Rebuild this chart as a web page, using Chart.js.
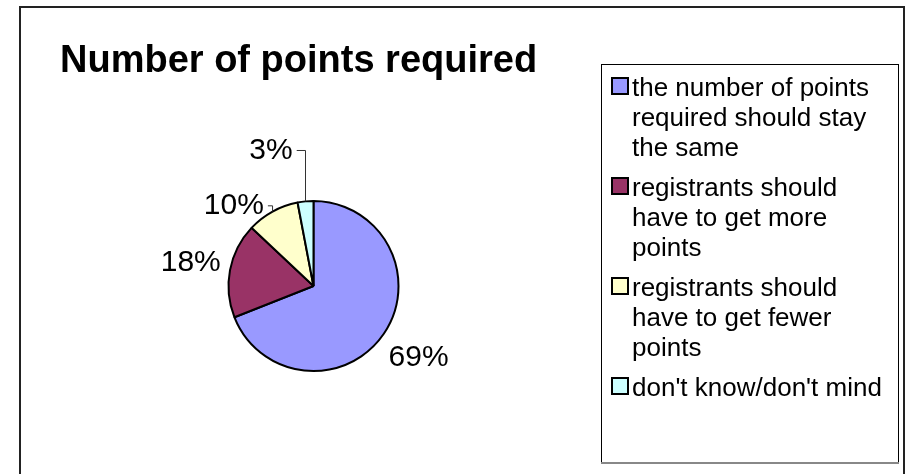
<!DOCTYPE html>
<html>
<head>
<meta charset="utf-8">
<script src="https://cdn.jsdelivr.net/npm/chart.js@4"></script>
<style>
  html, body { margin: 0; padding: 0; background: #ffffff; }
  #wrap { width: 912px; height: 474px; }
</style>
</head>
<body>
<div id="wrap"><canvas id="c" width="912" height="474"></canvas></div>
<script>
// ---- data ----
const chartTitle = 'Number of points required';
const categories = [
  'the number of points required should stay the same',
  'registrants should have to get more points',
  'registrants should have to get fewer points',
  "don't know/don't mind"
];
const values = [69, 18, 10, 3];
const valueLabels = ['69%', '18%', '10%', '3%'];
const sliceColors = ['#9999FF', '#993366', '#FFFFCC', '#CCFFFF'];

// ---- label placement (radial distance beyond the rim, angular shift in degrees) ----
const labelPlacement = [
  { radial: 42, shift: 0, leader: false },
  { radial: 40, shift: 0, leader: false },
  { radial: 28, shift: -16, leader: true },
  { radial: 57, shift: -12, leader: true }
];

const FONT = '"Liberation Sans", Arial, Helvetica, sans-serif';

function wrapText(ctx, text, maxWidth) {
  const words = text.split(' ');
  const lines = [];
  let cur = '';
  for (const w of words) {
    const test = cur ? cur + ' ' + w : w;
    if (ctx.measureText(test).width > maxWidth && cur) {
      lines.push(cur);
      cur = w;
    } else {
      cur = test;
    }
  }
  if (cur) lines.push(cur);
  return lines;
}

const decorPlugin = {
  id: 'decor',
  beforeDraw(chart) {
    const ctx = chart.ctx;
    ctx.save();
    ctx.fillStyle = '#ffffff';
    ctx.fillRect(0, 0, chart.width, chart.height);
    // outer frame
    ctx.strokeStyle = '#222222';
    ctx.lineWidth = 2;
    ctx.strokeRect(20, 7, 884, 490);
    ctx.restore();
  },
  afterDraw(chart) {
    const ctx = chart.ctx;
    const meta = chart.getDatasetMeta(0);
    ctx.save();

    // title
    ctx.fillStyle = '#000000';
    ctx.font = 'bold 38px ' + FONT;
    ctx.textAlign = 'left';
    ctx.textBaseline = 'alphabetic';
    ctx.fillText(chartTitle, 60, 72);

    // data labels + leader lines
    ctx.font = '30px ' + FONT;
    ctx.textAlign = 'center';
    ctx.textBaseline = 'middle';
    meta.data.forEach((arc, i) => {
      const p = arc.getProps(['x', 'y', 'startAngle', 'endAngle', 'outerRadius'], true);
      const pl = labelPlacement[i];
      const midRaw = (p.startAngle + p.endAngle) / 2;
      const mid = midRaw + pl.shift * Math.PI / 180;
      const dist = p.outerRadius + pl.radial;
      const lx = p.x + Math.cos(mid) * dist;
      const ly = p.y + Math.sin(mid) * dist;
      const txt = valueLabels[i];
      ctx.fillStyle = '#000000';
      ctx.fillText(txt, lx, ly);
      if (pl.leader) {
        const w = ctx.measureText(txt).width;
        const ex = p.x + Math.cos(midRaw) * p.outerRadius;
        const ey = p.y + Math.sin(midRaw) * p.outerRadius;
        const sx = lx + w / 2 + 4;
        const sy = ly;
        ctx.strokeStyle = '#333333';
        ctx.lineWidth = 1;
        ctx.beginPath();
        ctx.moveTo(sx, sy);
        ctx.lineTo(ex, sy);
        ctx.lineTo(ex, ey);
        ctx.stroke();
      }
    });

    // legend box
    const bx = 601, by = 64, bw = 297, bh = 398;
    ctx.strokeStyle = '#000000';
    ctx.lineWidth = 1;
    ctx.strokeRect(bx + 0.5, by + 0.5, bw, bh);
    ctx.strokeStyle = '#888888';
    ctx.lineWidth = 2;
    ctx.beginPath();
    ctx.moveTo(bx, by + bh + 1);
    ctx.lineTo(bx + bw + 1, by + bh + 1);
    ctx.stroke();

    ctx.font = '26px ' + FONT;
    ctx.textAlign = 'left';
    ctx.textBaseline = 'alphabetic';
    const lineH = 30, itemGap = 10, textX = 632;
    let baseY = 96;
    const ds = chart.data.datasets[0];
    chart.data.labels.forEach((lab, i) => {
      const lines = wrapText(ctx, lab, 260);
      // swatch
      ctx.fillStyle = ds.backgroundColor[i];
      ctx.fillRect(612, baseY - 18, 16, 16);
      ctx.strokeStyle = '#000000';
      ctx.lineWidth = 2;
      ctx.strokeRect(612, baseY - 18, 16, 16);
      ctx.fillStyle = '#000000';
      lines.forEach((ln, k) => {
        ctx.fillText(ln, textX, baseY + k * lineH);
      });
      baseY += lines.length * lineH + itemGap;
    });

    ctx.restore();
  }
};

new Chart(document.getElementById('c'), {
  type: 'pie',
  data: {
    labels: categories,
    datasets: [{
      data: values,
      backgroundColor: sliceColors,
      borderColor: '#000000',
      borderWidth: 2
    }]
  },
  options: {
    responsive: false,
    animation: false,
    devicePixelRatio: 1,
    layout: { padding: { left: 227, right: 512, top: 200, bottom: 102 } },
    plugins: {
      legend: { display: false },
      title: { display: false },
      tooltip: { enabled: false }
    }
  },
  plugins: [decorPlugin]
});
</script>
</body>
</html>
